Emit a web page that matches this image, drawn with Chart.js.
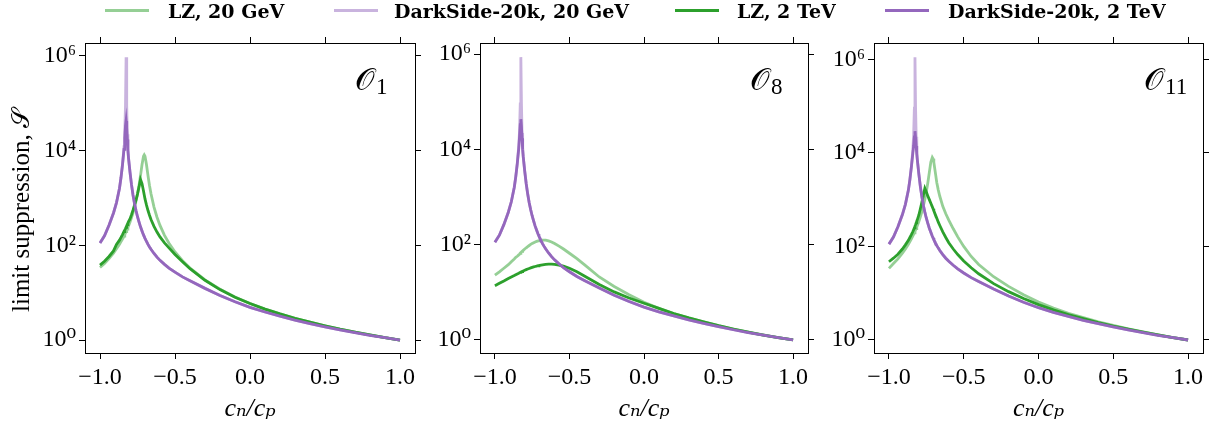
<!DOCTYPE html>
<html>
<head>
<meta charset="utf-8">
<script src="https://cdn.jsdelivr.net/npm/chart.js@4.4.0/dist/chart.umd.min.js"></script>
<style>
  html, body { margin: 0; padding: 0; background: #fff; }
  body { width: 1217px; height: 435px; position: relative; overflow: hidden; }
  canvas { position: absolute; top: 0; }
  #legend { position: absolute; top: 0; left: 0; width: 1217px; height: 24px; z-index: 5;
    font-family: "DejaVu Serif", serif; font-weight: bold; font-size: 19px; color: #000; }
  #legend .swatch { position: absolute; top: 9px; width: 44px; height: 3px; }
  #legend .label { position: absolute; top: 0; line-height: 22px; white-space: nowrap; }
</style>
</head>
<body>
<div id="legend"></div>
<canvas id="p1"></canvas>
<canvas id="p2"></canvas>
<canvas id="p3"></canvas>
<script>
const xValues = [-1.0, -0.97, -0.94, -0.91, -0.89, -0.87, -0.86, -0.85, -0.84, -0.835,
  -0.83, -0.826, -0.822, -0.818, -0.814, -0.81, -0.80, -0.79, -0.78, -0.77,
  -0.76, -0.75, -0.74, -0.73, -0.72, -0.71, -0.705, -0.70, -0.69, -0.68,
  -0.67, -0.66, -0.64, -0.62, -0.60, -0.57, -0.54, -0.50, -0.45, -0.40,
  -0.30, -0.20, -0.10, 0.0, 0.1, 0.2, 0.3, 0.4, 0.5, 0.6, 0.7, 0.8, 0.9, 1.0];

const seriesNames = ['LZ, 20 GeV', 'DarkSide-20k, 20 GeV', 'LZ, 2 TeV', 'DarkSide-20k, 2 TeV'];
const panelNames = ['1', '8', '11'];
const xTickValues = [-1, -0.5, 0, 0.5, 1];
const yTickValues = [1, 1e2, 1e4, 1e6];
const yTickLabels = ['10\u2070', '10\u00b2', '10\u2074', '10\u2076'];
const yTitle = 'limit suppression, \u{1D4AE}';

// O1
const o1LzLow = [34, 41, 52, 68, 84, 105, 119, 135, 155, 167,
  181, 193, 206, 220, 236, 254, 308, 382, 484, 632,
  856, 1216, 1830, 2950, 4990, 7600, 8100, 7600, 4990, 2950,
  1830, 1216, 640, 390, 262, 162, 110, 72, 47, 33,
  18.5, 11.8, 8.1, 5.9, 4.5, 3.55, 2.87, 2.38, 2.0, 1.7, 1.47, 1.28, 1.12, 1.0];
const o1DsLow = [112, 158, 263, 479, 794, 1600, 2680, 5000, 1.2e4, 2.4e4,
  9e4, 9.3e5, 9e4, 2.2e4, 1.1e4, 7000, 3500, 1900, 1150, 760,
  540, 400, 310, 245, 200, 165, 152, 140, 120, 104,
  92, 82, 67, 56, 48, 39.5, 33, 27, 21.5, 17.8,
  12.3, 8.7, 6.4, 4.9, 3.9, 3.2, 2.64, 2.23, 1.9, 1.64, 1.43, 1.26, 1.12, 1.0];
const o1LzHigh = [38, 46, 58, 76, 104, 128, 146, 168, 195, 210,
  225, 240, 256, 274, 293, 314, 360, 440, 550, 700,
  900, 1200, 1700, 2450, 2000, 1400, 1150, 950, 700, 540,
  430, 350, 250, 190, 150, 112, 88, 64, 45, 32,
  18.2, 11.6, 8.0, 5.9, 4.5, 3.55, 2.87, 2.38, 2.0, 1.7, 1.47, 1.28, 1.12, 1.0];
const o1DsHigh = [112, 158, 263, 479, 794, 1600, 2680, 5000, 1.05e4, 1.8e4,
  3.3e4, 4.2e4, 3.0e4, 1.7e4, 1.0e4, 7000, 3500, 1900, 1150, 760,
  540, 400, 310, 245, 200, 165, 152, 140, 120, 104,
  92, 82, 67, 56, 48, 39.5, 33, 27, 21.5, 17.8,
  12.3, 8.7, 6.4, 4.9, 3.9, 3.2, 2.64, 2.23, 1.9, 1.64, 1.43, 1.26, 1.12, 1.0];

// O8
const o8LzLow = [23, 27, 32, 38, 44, 50, 54, 57, 61, 63,
  66, 68, 70, 72, 74, 76, 81, 86, 91, 96,
  101, 106, 110, 114, 117, 120, 121, 122, 124, 125,
  125, 124, 120, 114, 106, 93, 81, 66, 51, 38,
  21, 13.3, 8.9, 6.2, 4.6, 3.6, 2.9, 2.4, 2.0, 1.7, 1.47, 1.28, 1.12, 1.0];
const o8DsLow = [112, 158, 263, 479, 794, 1600, 2680, 5000, 1.2e4, 2.4e4,
  9e4, 8.6e5, 9e4, 2.2e4, 1.1e4, 7000, 3500, 1900, 1150, 760,
  540, 400, 310, 245, 200, 165, 152, 140, 120, 104,
  92, 82, 67, 56, 48, 39.5, 33, 27, 21.5, 17.8,
  12.3, 8.7, 6.4, 4.9, 3.9, 3.2, 2.64, 2.23, 1.9, 1.64, 1.43, 1.26, 1.12, 1.0];
const o8LzHigh = [13.8, 15.5, 17.3, 19.5, 21, 22.5, 23.4, 24.3, 25.2, 25.7,
  26.1, 26.5, 26.9, 27.3, 27.7, 28.1, 29, 29.9, 30.8, 31.7,
  32.5, 33.3, 34.1, 34.8, 35.5, 36.1, 36.4, 36.7, 37.3, 37.8,
  38.2, 38.5, 38.9, 39, 38.6, 37.3, 35.5, 32, 27, 22,
  14.6, 10.2, 7.6, 5.9, 4.6, 3.6, 2.9, 2.4, 2.0, 1.7, 1.46, 1.27, 1.12, 1.0];
const o8DsHigh = [112, 158, 263, 479, 794, 1600, 2680, 5000, 1.05e4, 1.8e4,
  3.3e4, 4.3e4, 3.0e4, 1.7e4, 1.0e4, 7000, 3500, 1900, 1150, 760,
  540, 400, 310, 245, 200, 165, 152, 140, 120, 104,
  92, 82, 67, 56, 48, 39.5, 33, 27, 21.5, 17.8,
  12.3, 8.7, 6.4, 4.9, 3.9, 3.2, 2.64, 2.23, 1.9, 1.64, 1.43, 1.26, 1.12, 1.0];

// O11
const o11LzLow = [34, 43, 54, 72, 88, 111, 127, 145, 168, 181,
  196, 209, 224, 241, 259, 279, 342, 428, 550, 731,
  1013, 1478, 2301, 3822, 6330, 8000, 7500, 6330, 3822, 2301,
  1600, 1180, 720, 500, 365, 238, 160, 100, 61, 41,
  22.5, 14, 9.3, 6.5, 4.8, 3.7, 3.0, 2.45, 2.05, 1.73, 1.49, 1.29, 1.13, 1.0];
const o11DsLow = [112, 158, 263, 479, 794, 1600, 2680, 5000, 1.2e4, 2.4e4,
  9e4, 1.1e6, 9e4, 2.2e4, 1.1e4, 7000, 3500, 1900, 1150, 760,
  540, 400, 310, 245, 200, 165, 152, 140, 120, 104,
  92, 82, 67, 56, 48, 39.5, 33, 27, 21.5, 17.8,
  12.3, 8.7, 6.4, 4.9, 3.9, 3.2, 2.64, 2.23, 1.9, 1.64, 1.43, 1.26, 1.12, 1.0];
const o11LzHigh = [47, 56, 68, 88, 108, 135, 155, 178, 208, 228,
  250, 270, 292, 318, 345, 375, 470, 640, 880, 1250,
  1740, 1450, 1200, 1000, 840, 700, 640, 580, 480, 400,
  330, 280, 205, 155, 120, 88, 67, 49, 35, 26,
  16, 10.8, 7.7, 5.7, 4.4, 3.5, 2.85, 2.35, 1.98, 1.7, 1.47, 1.28, 1.12, 1.0];
const o11DsHigh = [112, 158, 263, 479, 794, 1600, 2680, 5000, 1.0e4, 1.4e4,
  2.2e4, 2.9e4, 2.1e4, 1.4e4, 9500, 7000, 3500, 1900, 1150, 760,
  540, 400, 310, 245, 200, 165, 152, 140, 120, 104,
  92, 82, 67, 56, 48, 39.5, 33, 27, 21.5, 17.8,
  12.3, 8.7, 6.4, 4.9, 3.9, 3.2, 2.64, 2.23, 1.9, 1.64, 1.43, 1.26, 1.12, 1.0];

const colors = ['rgba(44, 160, 44, 0.5)', 'rgba(148, 103, 189, 0.5)', '#2ca02c', '#9467bd'];
const serif = '"Liberation Serif", "DejaVu Serif", serif';

function buildLegend() {
  const el = document.getElementById('legend');
  const swatchX = [105, 334, 675, 885];
  const labelX = [168, 394, 737, 948];
  seriesNames.forEach((name, i) => {
    const sw = document.createElement('div');
    sw.className = 'swatch';
    sw.style.left = swatchX[i] + 'px';
    sw.style.background = colors[i];
    el.appendChild(sw);
    const lb = document.createElement('div');
    lb.className = 'label';
    lb.style.left = labelX[i] + 'px';
    lb.textContent = name;
    el.appendChild(lb);
  });
}

// panel name (O_n) in the top right corner, and the y title on the first panel
const panelText = {
  id: 'panelText',
  afterDraw(chart, args, opts) {
    const { ctx, chartArea } = chart;
    const x = chartArea.left + 270;
    ctx.save();
    ctx.fillStyle = '#000';
    ctx.textBaseline = 'alphabetic';
    ctx.textAlign = 'left';
    ctx.font = '31px "DejaVu Serif", serif';
    ctx.fillText('\u{1D4AA}', x, chartArea.top + 47);
    const w = ctx.measureText('\u{1D4AA}').width;
    ctx.font = '23px ' + serif;
    ctx.fillText(opts.sub, x + w + 1, chartArea.top + 51);
    if (opts.yTitle) {
      ctx.translate(22, 312);
      ctx.rotate(-Math.PI / 2);
      ctx.textBaseline = 'middle';
      ctx.font = '25px ' + serif;
      ctx.fillText(opts.yTitle, 0, 0);
    }
    ctx.restore();
  }
};

function toSeries(values) {
  return xValues.map((x, i) => ({ x, y: values[i] }));
}

function makePanel(id, left, padLeft, plotWidth, padRight, yMin, yMax, values, sub, showYTitle) {
  const canvas = document.getElementById(id);
  canvas.width = padLeft + plotWidth + padRight;
  canvas.height = 435;
  canvas.style.left = left + 'px';

  const datasets = values.map((v, i) => ({
    label: seriesNames[i],
    data: toSeries(v),
    borderColor: colors[i],
    backgroundColor: colors[i],
    borderWidth: 2.8,
    pointRadius: 0,
    tension: 0,
    fill: false,
    order: 4 - i
  }));

  const tickGrid = { drawOnChartArea: false, drawTicks: true, tickLength: 6, tickWidth: 1, color: '#000' };
  const border = { display: true, color: '#000', width: 1 };
  const tickFont = { family: serif, size: 24 };

  const xAxis = (pos, h) => ({
    type: 'linear', position: pos, min: -1.1, max: 1.1,
    afterBuildTicks: (s) => { s.ticks = xTickValues.map((v) => ({ value: v })); },
    afterFit: (s) => { s.height = h; },
    grid: tickGrid, border
  });
  const yAxis = (pos, w) => ({
    type: 'logarithmic', position: pos, min: Math.pow(10, yMin), max: Math.pow(10, yMax),
    afterBuildTicks: (s) => { s.ticks = yTickValues.map((v) => ({ value: v })); },
    afterFit: (s) => { s.width = w; },
    grid: tickGrid, border
  });

  const x = xAxis('bottom', 82);
  x.ticks = { font: tickFont, color: '#000', padding: 4, autoSkip: false, maxRotation: 0,
    callback: (v) => Number(v).toFixed(1).replace('-', '\u2212') };
  x.title = { display: true, text: 'c\u2099/c\u209a', color: '#000',
    font: { family: serif, size: 26, style: 'italic' }, padding: { top: 0, bottom: 10 } };
  const x2 = xAxis('top', 43);
  x2.ticks = { display: false };

  const y = yAxis('left', padLeft);
  y.ticks = { font: tickFont, color: '#000', padding: 3, autoSkip: false,
    callback: (v) => yTickLabels[yTickValues.indexOf(v)] ?? '' };
  const y2 = yAxis('right', padRight);
  y2.ticks = { display: false };

  return new Chart(canvas, {
    type: 'line',
    data: { datasets },
    options: {
      responsive: false,
      animation: false,
      devicePixelRatio: 1,
      layout: { padding: 0 },
      plugins: {
        legend: { display: false },
        tooltip: { enabled: false },
        panelText: { sub, yTitle: showYTitle ? yTitle : '' }
      },
      scales: { x, x2, y, y2 }
    },
    plugins: [panelText]
  });
}

buildLegend();
makePanel('p1', 0, 85, 330, 15, -0.274, 6.268, [o1LzLow, o1DsLow, o1LzHigh, o1DsHigh], panelNames[0], true);
makePanel('p2', 400, 80, 328, 12, -0.273, 6.231, [o8LzLow, o8DsLow, o8LzHigh, o8DsHigh], panelNames[1], false);
makePanel('p3', 794, 80, 329, 14, -0.278, 6.348, [o11LzLow, o11DsLow, o11LzHigh, o11DsHigh], panelNames[2], false);
</script>
</body>
</html>
